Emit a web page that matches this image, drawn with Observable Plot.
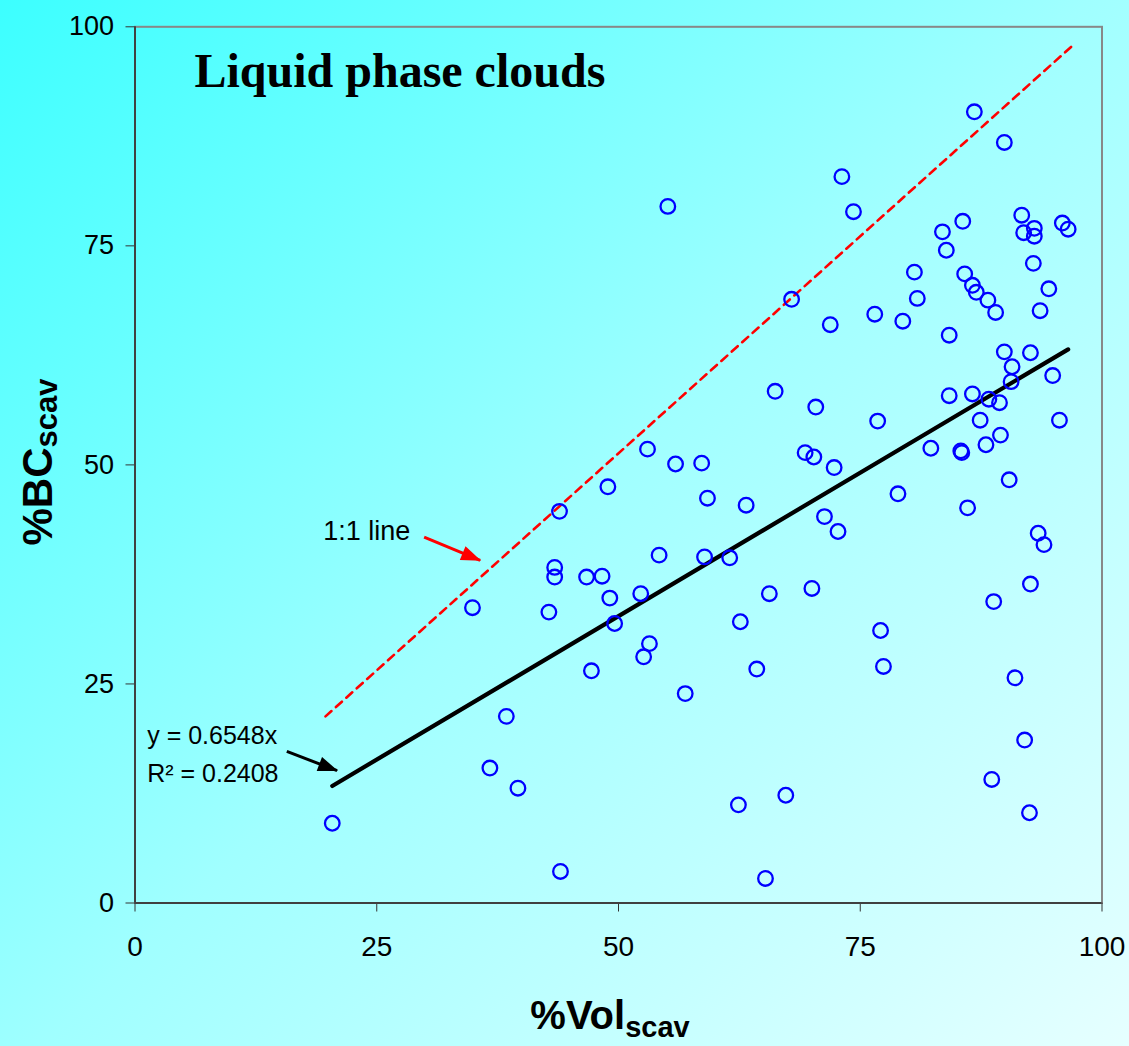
<!DOCTYPE html>
<html>
<head>
<meta charset="utf-8">
<script src="https://cdn.jsdelivr.net/npm/d3@7"></script>
<script src="https://cdn.jsdelivr.net/npm/@observablehq/plot@0.6"></script>
<style>
  html, body { margin: 0; padding: 0; }
  body {
    width: 1129px; height: 1046px; overflow: hidden;
    background: linear-gradient(135deg, #3cffff 0%, #a0ffff 50%, #e6ffff 100%);
  }
</style>
</head>
<body>
<div id="chart"></div>
<script>
// ---- data ----
const volScav = [20.4, 34.9, 36.7, 38.4, 39.6, 42.8, 43.4, 43.4, 43.9, 44.0,
  46.7, 47.2, 48.3, 48.9, 49.1, 49.6, 52.3, 52.6, 53.0, 53.2,
  54.2, 55.1, 55.9, 56.9, 58.6, 58.9, 59.2, 61.5, 62.6, 62.4,
  63.2, 64.3, 65.2, 65.6, 66.2, 67.3, 67.9, 69.3, 70.0, 70.2,
  70.4, 71.3, 71.9, 72.3, 72.7, 73.1, 74.3, 76.5, 76.8, 77.1,
  77.4, 78.9, 79.4, 80.6, 80.9, 82.3, 83.5, 83.9, 84.2, 84.2,
  85.4, 85.5, 85.6, 85.8, 86.1, 86.6, 86.6, 86.8, 87.0, 87.4,
  88.0, 88.2, 88.3, 88.6, 88.8, 89.0, 89.4, 89.5, 89.9, 89.9,
  90.4, 90.7, 90.6, 91.0, 91.7, 91.9, 92.0, 92.5, 92.6, 92.6,
  93.0, 93.0, 92.9, 93.4, 93.6, 94.0, 94.5, 94.9, 95.6, 95.9, 96.5];
const bcScav = [9.1, 33.7, 15.4, 21.3, 13.1, 33.2, 37.2, 38.3, 44.7, 3.6,
  37.2, 26.5, 37.3, 47.5, 34.8, 31.9, 35.3, 28.1, 51.8, 29.6,
  39.7, 79.5, 50.1, 23.9, 50.2, 39.5, 46.2, 39.4, 32.1, 11.2,
  45.4, 26.7, 2.8, 35.3, 58.4, 12.3, 68.9, 51.4, 35.9, 50.9,
  56.6, 44.1, 66.0, 49.7, 42.4, 82.9, 78.9, 67.2, 55.0, 31.1,
  27.0, 46.7, 66.4, 72.0, 69.0, 51.9, 76.6, 74.5, 64.8, 57.9,
  51.6, 51.4, 77.8, 71.8, 45.1, 70.5, 58.1, 90.3, 69.7, 55.1,
  52.3, 68.8, 57.5, 14.1, 34.4, 67.4, 57.1, 53.4, 86.8, 62.9,
  48.3, 61.2, 59.5, 25.7, 78.5, 76.5, 18.6, 10.3, 36.4, 62.8,
  77.0, 76.1, 73.0, 42.2, 67.6, 40.9, 70.1, 60.2, 55.1, 77.6, 76.9];

const xTicks = [0, 25, 50, 75, 100];
const yTicks = [0, 25, 50, 75, 100];

// fitted trend (y = 0.6548x, R² = 0.2408) over the data range
const trendSlope = 0.6548;
const trendX = [d3.min(volScav), d3.max(volScav)];

// hand-drawn 1:1 reference line endpoints
const oneToOneX = [19.7, 97.0];
const oneToOneY = [21.3, 97.9];

// annotation texts
const titleText = "Liquid phase clouds";
const oneToOneLabel = "1:1 line";
const eqLabel = "y = 0.6548x";
const r2Label = "R² = 0.2408";

// annotation anchor points (data units)
const titlePos = {x: 6.15, y: 93.1};
const oneLabelPos = {x: 19.46, y: 41.4};
const eqPos = {x: 1.26, y: 18.2};
const r2Pos = {x: 1.26, y: 13.8};
const redArrow = {x1: 29.9, y1: 41.75, x2: 35.7, y2: 39.1};
const blackArrow = {x1: 15.7, y1: 17.3, x2: 20.9, y2: 15.1};

// ---- build ----
const points = volScav.map((x, i) => ({x, y: bcScav[i]}));
const trend = trendX.map(x => ({x, y: trendSlope * x}));
const oneToOne = oneToOneX.map((x, i) => ({x, y: oneToOneY[i]}));

function triangleHead(color, context) {
  const doc = (context && context.document) || document;
  const m = doc.createElementNS("http://www.w3.org/2000/svg", "marker");
  m.setAttribute("viewBox", "-20 -10 22 20");
  m.setAttribute("markerWidth", "22");
  m.setAttribute("markerHeight", "20");
  m.setAttribute("markerUnits", "userSpaceOnUse");
  m.setAttribute("refX", "0");
  m.setAttribute("refY", "0");
  m.setAttribute("orient", "auto");
  const p = doc.createElementNS("http://www.w3.org/2000/svg", "path");
  p.setAttribute("d", "M-19,-7.5L1,0L-19,7.5Z");
  p.setAttribute("fill", color);
  p.setAttribute("stroke", "none");
  m.appendChild(p);
  return m;
}

const font = "'Liberation Sans', Arial, Helvetica, sans-serif";

const plot = Plot.plot({
  width: 1129,
  height: 1046,
  marginLeft: 134.5,
  marginRight: 27.5,
  marginTop: 26.3,
  marginBottom: 143.5,
  style: {background: "transparent", fontFamily: font, fontSize: "27px", color: "black", overflow: "visible"},
  x: {domain: [0, 100], label: null},
  y: {domain: [0, 100], label: null},
  marks: [
    Plot.frame({stroke: "#888888", strokeWidth: 2}),
    Plot.axisX({ticks: xTicks, tickSize: 9, tickPadding: 24, fontSize: 28, stroke: "#333", fill: "black", label: null}),
    Plot.axisY({ticks: yTicks, tickSize: 9, tickPadding: 12, fontSize: 27, stroke: "#333", fill: "black", label: null}),
    Plot.ruleX([0], {stroke: "#404040", strokeWidth: 2}),
    Plot.ruleY([0], {stroke: "#404040", strokeWidth: 2}),
    Plot.line(oneToOne, {x: "x", y: "y", stroke: "#ff0000", strokeWidth: 2.6, strokeDasharray: "8,6"}),
    Plot.line(trend, {x: "x", y: "y", stroke: "black", strokeWidth: 4.2, strokeLinecap: "round"}),
    Plot.dot(points, {x: "x", y: "y", r: 7.3, stroke: "#0000ff", strokeWidth: 2.3, fill: "none"}),
    Plot.link([redArrow], {x1: "x1", y1: "y1", x2: "x2", y2: "y2", stroke: "#ff0000", strokeWidth: 3, markerEnd: triangleHead}),
    Plot.link([blackArrow], {x1: "x1", y1: "y1", x2: "x2", y2: "y2", stroke: "black", strokeWidth: 3, markerEnd: triangleHead}),
    Plot.text([titlePos], {x: "x", y: "y", text: () => titleText, textAnchor: "start", lineAnchor: "bottom",
      fontFamily: "'Liberation Serif', 'Times New Roman', serif", fontWeight: "bold", fontSize: 48, fill: "black"}),
    Plot.text([oneLabelPos], {x: "x", y: "y", text: () => oneToOneLabel, textAnchor: "start", lineAnchor: "bottom", fontSize: 27, fill: "black"}),
    Plot.text([eqPos], {x: "x", y: "y", text: () => eqLabel, textAnchor: "start", lineAnchor: "bottom", fontSize: 25, fill: "black"}),
    Plot.text([r2Pos], {x: "x", y: "y", text: () => r2Label, textAnchor: "start", lineAnchor: "bottom", fontSize: 25, fill: "black"})
  ]
});

// axis titles with subscripts
const svg = d3.select(plot);
const xt = svg.append("text")
  .attr("x", 610).attr("y", 1029)
  .attr("text-anchor", "middle")
  .attr("font-family", font).attr("font-weight", "bold").attr("font-size", 40).attr("fill", "black");
xt.append("tspan").text("%Vol");
xt.append("tspan").attr("font-size", 29).attr("dy", 8).text("scav");

const yt = svg.append("text")
  .attr("transform", "translate(52,462) rotate(-90)")
  .attr("text-anchor", "middle")
  .attr("font-family", font).attr("font-weight", "bold").attr("font-size", 42).attr("fill", "black");
yt.append("tspan").text("%BC");
yt.append("tspan").attr("font-size", 31).attr("dy", 5).text("scav");

document.getElementById("chart").appendChild(plot);
</script>
</body>
</html>
